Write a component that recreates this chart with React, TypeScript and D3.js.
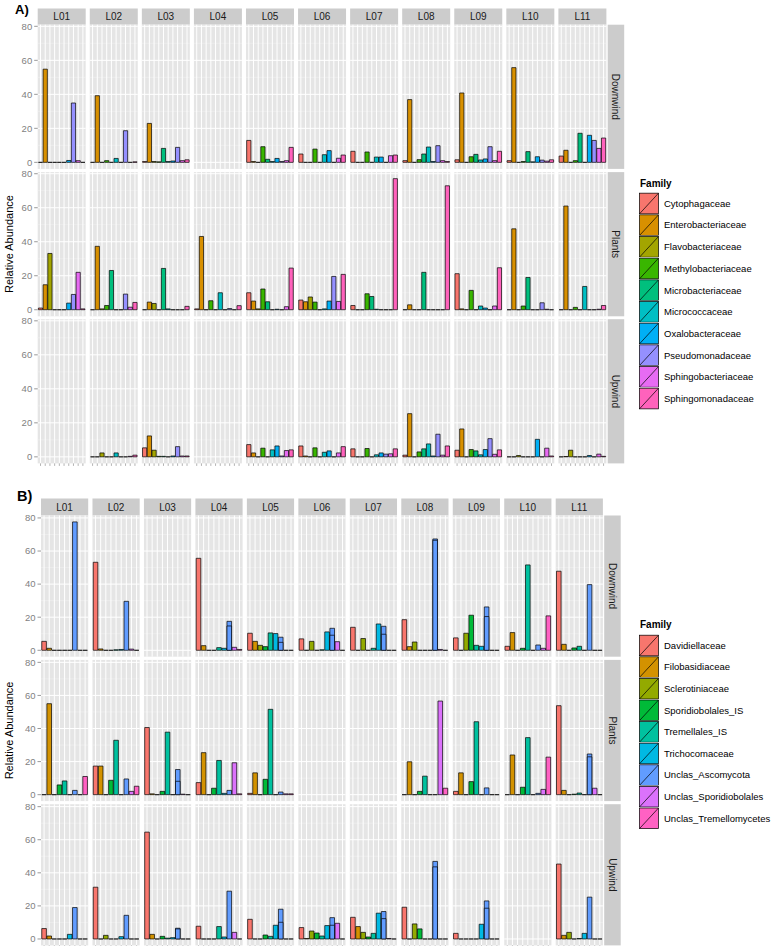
import React from "react";
import * as d3 from "d3";

type Cell = number[] | null;

const locations = ["L01", "L02", "L03", "L04", "L05", "L06", "L07", "L08", "L09", "L10", "L11"];
const rowNames = ["Downwind", "Plants", "Upwind"];
const yTicks = [0, 20, 40, 60, 80];
const yMinor = [10, 30, 50, 70];

const familiesA = [
  "Cytophagaceae", "Enterobacteriaceae", "Flavobacteriaceae", "Methylobacteriaceae", "Microbacteriaceae",
  "Micrococcaceae", "Oxalobacteraceae", "Pseudomonadaceae", "Sphingobacteriaceae", "Sphingomonadaceae",
];
const familiesB = [
  "Davidiellaceae", "Filobasidiaceae", "Sclerotiniaceae", "Sporidiobolales_IS", "Tremellales_IS",
  "Trichocomaceae", "Unclas_Ascomycota", "Unclas_Sporidiobolales", "Unclas_Tremellomycetes",
];

const paletteA = ["#F8766D", "#D89000", "#A3A500", "#39B600", "#00BF7D", "#00BFC4", "#00B0F6", "#9590FF", "#E76BF3", "#FF62BC"];
const paletteB = ["#F8766D", "#D39200", "#93AA00", "#00BA38", "#00C19F", "#00B9E3", "#619CFF", "#DB72FB", "#FF61C3"];

// Panel A (bacteria), one array per location, values in family order
const aDownwind: Cell[] = [
  [0, 54.8, 0, 0, 0, 0, 1.1, 34.9, 1.0, 0],
  [0, 39.2, 0, 1.0, 0, 2.3, 0, 18.6, 0, 0.3],
  [0.5, 22.9, 0.5, 0.3, 8.2, 0.5, 0.8, 8.8, 1.0, 1.5],
  null,
  [12.9, 0.5, 0, 9.2, 1.8, 0.5, 2.3, 0.5, 1.0, 8.8],
  [4.9, 0, 0, 7.8, 0, 4.5, 6.9, 0, 2.4, 4.3],
  [6.5, 0, 0, 6.1, 0, 3.1, 3.1, 0, 3.9, 4.3],
  [1.0, 36.9, 0, 1.6, 4.9, 9.0, 0.5, 9.8, 1.0, 0.5],
  [1.5, 40.8, 0, 3.3, 4.7, 1.4, 2.0, 9.2, 1.0, 6.5],
  [1.0, 55.7, 0, 0.5, 6.3, 0.3, 3.3, 1.3, 0.7, 1.5],
  [3.7, 7.1, 0, 1.0, 17.1, 0, 15.9, 12.9, 8.2, 14.3],
];
const aPlants: Cell[] = [
  [1.0, 14.7, 33.1, 0, 0, 0, 3.9, 9.0, 22.0, 0.5],
  [0, 37.3, 0.5, 2.5, 23.1, 0, 0, 9.2, 1.5, 4.3],
  [0, 4.5, 3.7, 0, 24.3, 0.5, 0, 0, 0, 2.0],
  [0.5, 43.1, 0, 5.3, 0, 10.0, 0, 0.7, 0, 2.4],
  [10.0, 5.1, 0.5, 12.2, 4.7, 0, 0.3, 0, 1.8, 24.5],
  [5.7, 4.7, 7.5, 4.5, 0, 0.5, 5.1, 19.6, 4.9, 20.8],
  [2.5, 0, 0, 9.4, 7.8, 0.3, 0, 0, 0, 77.1],
  [0, 2.9, 0, 0, 22.0, 0, 0, 0, 0, 72.9],
  [21.2, 0.5, 0, 11.4, 0, 2.2, 1.0, 0, 2.2, 24.7],
  [0, 47.6, 0, 2.2, 19.0, 0, 0, 4.1, 0.3, 0],
  [0, 61.0, 0, 1.4, 0, 13.7, 0, 0, 0.3, 2.5],
];
const aUpwind: Cell[] = [
  null,
  [0, 0, 2.3, 0, 0, 2.3, 0, 0, 0.3, 1.0],
  [5.3, 12.3, 3.9, 0.3, 0.3, 0, 0.5, 6.0, 0.5, 0.5],
  null,
  [7.2, 2.3, 0, 5.1, 0, 4.1, 6.4, 0.5, 3.7, 4.1],
  [6.4, 0.5, 0, 5.3, 0, 2.7, 3.5, 0, 2.3, 6.0],
  [4.7, 0, 0, 4.9, 0, 1.2, 2.3, 1.6, 1.8, 4.7],
  [1.0, 25.4, 0, 2.9, 4.7, 7.6, 0.5, 13.3, 1.0, 6.4],
  [3.9, 16.4, 0, 4.3, 3.5, 1.2, 4.3, 10.7, 1.5, 4.1],
  [0, 0, 0.8, 0, 0, 0, 10.3, 0, 5.1, 0.5],
  [0, 0.2, 3.9, 0, 0, 0, 0.8, 0, 1.6, 0.3],
];

// Panel B (fungi)
const bDownwind: Cell[] = [
  [5.4, 1.2, 0, 0, 0, 0, 77.6, 0, 0],
  [53.2, 0.8, 0, 0, 0.3, 0.5, 29.6, 0.7, 0],
  null,
  [55.6, 2.8, 0, 0, 1.6, 1.2, 17.5, 1.8, 0.5],
  [10.3, 5.4, 3.0, 2.2, 10.5, 10.1, 7.9, 0, 0],
  [6.9, 0, 5.4, 0, 0.3, 11.1, 13.3, 5.2, 0],
  [13.9, 0, 7.1, 0, 1.2, 15.9, 14.5, 0, 0],
  [18.5, 2.2, 5.0, 0, 0, 0, 67.3, 0.5, 0],
  [7.5, 0, 10.3, 21.2, 3.0, 2.4, 26.2, 0, 0],
  [2.4, 10.7, 0, 1.2, 51.6, 0, 3.2, 1.2, 20.8],
  [47.8, 3.6, 0, 1.4, 2.4, 0, 39.7, 0, 0],
];
const bPlants: Cell[] = [
  [0, 55.0, 0, 5.9, 8.3, 0, 2.6, 0, 11.0],
  [17.3, 17.3, 0, 8.7, 32.9, 0, 9.5, 2.0, 5.1],
  [40.6, 0.5, 0, 2.0, 37.8, 0, 15.2, 0.3, 0],
  [7.3, 25.4, 0, 3.9, 20.7, 0.8, 2.6, 19.3, 0.5],
  [0.8, 13.2, 0, 9.3, 51.6, 0, 1.6, 0.5, 0.5],
  null,
  null,
  [0, 19.9, 0, 2.0, 11.2, 0, 0, 56.6, 3.9],
  [2.0, 13.2, 0, 7.9, 44.1, 0, 4.1, 0, 0],
  [0, 24.0, 0, 4.5, 34.5, 0, 0.8, 3.2, 22.7],
  [53.8, 2.6, 0, 0.3, 1.0, 0, 24.6, 3.9, 0],
];
const bUpwind: Cell[] = [
  [6.3, 1.8, 0, 0, 0, 2.8, 19.0, 0, 0],
  [31.3, 0, 2.2, 0, 0, 1.4, 14.3, 0, 0],
  [64.6, 2.8, 0, 1.6, 0.5, 0.8, 6.5, 0, 0],
  [7.7, 0, 0, 0, 7.5, 1.2, 28.9, 4.0, 0],
  [11.9, 0, 0, 2.4, 1.6, 8.3, 18.0, 0, 0],
  [6.9, 0.3, 4.8, 3.6, 1.8, 8.1, 12.9, 9.5, 0],
  [13.1, 7.5, 4.0, 1.2, 3.4, 15.6, 16.6, 0.3, 0],
  [19.2, 0, 9.1, 6.1, 0, 0, 46.9, 0, 0],
  [3.4, 0, 0, 0, 0, 8.9, 23.0, 0, 0],
  null,
  [45.3, 2.2, 4.0, 0, 0.3, 3.4, 25.3, 0, 0],
];

// stacked sub-segments (lower part of a bar made of two records)
const bSplitRows = ["Downwind", "Downwind", "Downwind", "Downwind", "Downwind", "Downwind", "Plants", "Plants", "Upwind", "Upwind", "Upwind", "Upwind", "Upwind", "Upwind"];
const bSplitLocs = ["L04", "L05", "L06", "L07", "L08", "L09", "L03", "L11", "L03", "L05", "L06", "L07", "L08", "L09"];
const bSplitFamily = "Unclas_Ascomycota";
const bSplitLower = [14.7, 4.8, 9.1, 9.7, 66.5, 20.4, 8.1, 22.9, 6.1, 10.1, 8.3, 12.3, 43.6, 18.6];

type Split = { row: string; loc: string; family: string; lower: number };
const bSplits: Split[] = bSplitLower.map((lower, i) => ({ row: bSplitRows[i], loc: bSplitLocs[i], family: bSplitFamily, lower }));

const FONT = "'Liberation Sans', Arial, Helvetica, sans-serif";

type Layout = {
  label: string; labelX: number; labelY: number; labelSize: number;
  x0: number; stride: number; pw: number;
  stripTop: number; rowTops: number[]; ph: number;
  legendX: number; legendTitleY: number; legendFirstY: number; legendStep: number;
};

function Block({ layout, families, palette, rows, splits }: { layout: Layout; families: string[]; palette: string[]; rows: Cell[][]; splits: Split[] }) {
  const L = layout;
  const ymax = d3.max(rows.flat().filter((c): c is number[] => !!c).flat()) as number;
  const color = d3.scaleOrdinal<string, string>().domain(families).range(palette);
  const panelTop = L.rowTops[0];
  const bottom = L.rowTops[L.rowTops.length - 1] + L.ph;
  const keyH = L.legendStep;
  const keyW = 20;
  return (
    <g>
      <text x={L.labelX} y={L.labelY} fontSize={L.labelSize} fontWeight="bold" fontFamily={FONT} fill="#000">{L.label}</text>
      <text transform={`translate(9,${(panelTop + bottom) / 2}) rotate(-90)`} textAnchor="middle" dy="0.35em" fontSize={11} fontFamily={FONT} fill="#000">Relative Abundance</text>
      {locations.map((loc, ci) => {
        const px = L.x0 + ci * L.stride;
        const xb = d3.scaleBand<string>().domain(families).range([px, px + L.pw]).paddingInner(0.1).paddingOuter(0.15);
        return (
          <g key={loc}>
            <rect x={px} y={L.stripTop} width={L.pw} height={panelTop - L.stripTop} fill="#CCCCCC" />
            <text x={px + L.pw / 2} y={(L.stripTop + panelTop) / 2} dy="0.35em" textAnchor="middle" fontSize={10} fontFamily={FONT} fill="#1A1A1A">{loc}</text>
            {rowNames.map((rn, ri) => {
              const top = L.rowTops[ri];
              const y = d3.scaleLinear().domain([-0.05 * ymax, 1.05 * ymax]).range([top + L.ph, top]);
              const vals = rows[ri][ci];
              const y0 = y(0);
              return (
                <g key={rn}>
                  <rect x={px} y={top} width={L.pw} height={L.ph} fill="#E5E5E5" />
                  {yMinor.map((t) => (
                    <line key={"m" + t} x1={px} x2={px + L.pw} y1={y(t)} y2={y(t)} stroke="#F2F2F2" strokeWidth={0.5} />
                  ))}
                  {yTicks.map((t) => (
                    <line key={"M" + t} x1={px} x2={px + L.pw} y1={y(t)} y2={y(t)} stroke="#FFFFFF" strokeWidth={1} />
                  ))}
                  {families.map((f) => {
                    const cx = (xb(f) as number) + xb.bandwidth() / 2;
                    return <line key={"v" + f} x1={cx} x2={cx} y1={top} y2={top + L.ph} stroke="#FFFFFF" strokeWidth={1} />;
                  })}
                  {vals && families.map((f, fi) => {
                    const x = xb(f) as number;
                    const w = xb.bandwidth();
                    const y1 = y(vals[fi]);
                    return <path key={"b" + f} d={`M${x},${y0}V${y1}H${x + w}V${y0}Z`} fill={color(f)} stroke="#000" strokeWidth={0.7} />;
                  })}
                  {vals && splits.filter((s) => s.row === rn && s.loc === loc).map((s, si) => {
                    const x = xb(s.family) as number;
                    const w = xb.bandwidth();
                    return <path key={"s" + si} d={`M${x},${y0}V${y(s.lower)}H${x + w}V${y0}Z`} fill={color(s.family)} stroke="#000" strokeWidth={0.7} />;
                  })}
                  {ci === 0 && yTicks.map((t) => (
                    <g key={"t" + t}>
                      <line x1={px - 3.5} x2={px} y1={y(t)} y2={y(t)} stroke="#7F7F7F" strokeWidth={0.8} />
                      <text x={px - 5.5} y={y(t)} dy="0.35em" textAnchor="end" fontSize={9.5} fontFamily={FONT} fill="#7F7F7F">{t}</text>
                    </g>
                  ))}
                  {ri === rowNames.length - 1 && families.map((f) => {
                    const cx = (xb(f) as number) + xb.bandwidth() / 2;
                    return <line key={"xt" + f} x1={cx} x2={cx} y1={top + L.ph} y2={top + L.ph + 2.5} stroke="#7F7F7F" strokeWidth={0.6} />;
                  })}
                  {ci === locations.length - 1 && (
                    <g>
                      <rect x={px + L.pw + 1.3} y={top} width={16.5} height={L.ph} fill="#CCCCCC" />
                      <text transform={`translate(${px + L.pw + 1.3 + 8.25},${top + L.ph / 2}) rotate(90)`} textAnchor="middle" dy="0.35em" fontSize={10} fontFamily={FONT} fill="#1A1A1A">{rn}</text>
                    </g>
                  )}
                </g>
              );
            })}
          </g>
        );
      })}
      <text x={L.legendX} y={L.legendTitleY} dy="0.35em" fontSize={10} fontWeight="bold" fontFamily={FONT} fill="#000">Family</text>
      {families.map((f, i) => {
        const cy = L.legendFirstY + i * L.legendStep;
        const kx = L.legendX - 1;
        const ky = cy - keyH / 2;
        return (
          <g key={"lg" + f}>
            <rect x={kx} y={ky} width={keyW} height={keyH} fill="#F2F2F2" stroke="#FFFFFF" strokeWidth={0.5} />
            <rect x={kx + 0.5} y={ky + 0.5} width={keyW - 1} height={keyH - 1} fill={color(f)} stroke="#000" strokeWidth={0.7} />
            <line x1={kx + 0.5} y1={ky + keyH - 0.5} x2={kx + keyW - 0.5} y2={ky + 0.5} stroke="#000" strokeWidth={0.7} />
            <text x={kx + keyW + 5} y={cy} dy="0.35em" fontSize={9.5} fontFamily={FONT} fill="#000">{f}</text>
          </g>
        );
      })}
    </g>
  );
}

const layoutA: Layout = {
  label: "A)", labelX: 15, labelY: 13.5, labelSize: 13,
  x0: 37.7, stride: 52.07, pw: 48,
  stripTop: 8.5, rowTops: [24.7, 172.1, 319.2], ph: 144.2,
  legendX: 640, legendTitleY: 183, legendFirstY: 203.5, legendStep: 21.67,
};
const layoutB: Layout = {
  label: "B)", labelX: 17, labelY: 501, labelSize: 14.5,
  x0: 41, stride: 51.47, pw: 47.2,
  stripTop: 498.5, rowTops: [515.5, 659.9, 804.2], ph: 141.2,
  legendX: 640, legendTitleY: 624, legendFirstY: 645.5, legendStep: 21.6,
};

export default function App() {
  return (
    <svg width={777} height={946} style={{ position: "absolute", left: 0, top: 0, background: "#FFFFFF" }}>
      <rect x={0} y={0} width={777} height={946} fill="#FFFFFF" />
      <Block layout={layoutA} families={familiesA} palette={paletteA} rows={[aDownwind, aPlants, aUpwind]} splits={[]} />
      <Block layout={layoutB} families={familiesB} palette={paletteB} rows={[bDownwind, bPlants, bUpwind]} splits={bSplits} />
    </svg>
  );
}
